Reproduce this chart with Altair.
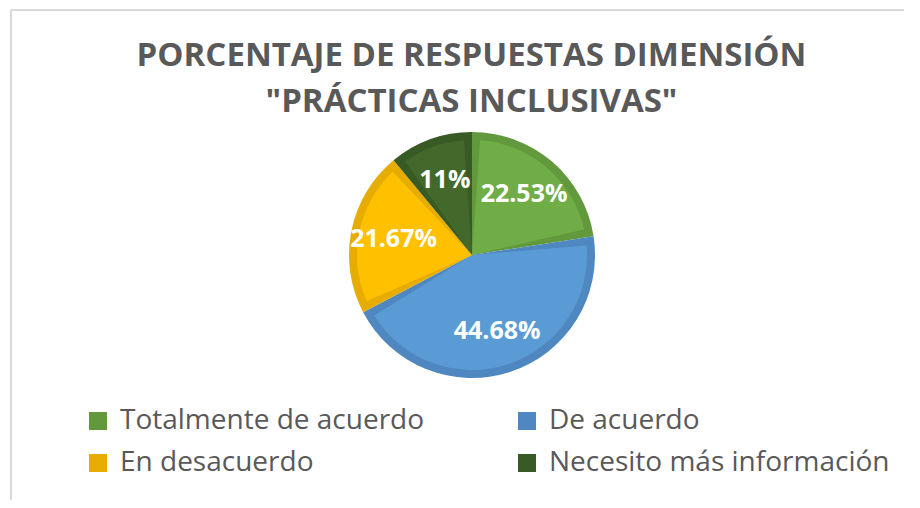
import altair as alt
import pandas as pd

# ---- data ----
categorias = ["Totalmente de acuerdo", "De acuerdo", "En desacuerdo", "Necesito más información"]
valores = [22.53, 44.68, 21.67, 11]
orden = [1, 2, 3, 4]
colores_relleno = ["#70AD47", "#5B9BD5", "#FFC000", "#43682B"]
colores_borde = ["#62993C", "#4F88C0", "#E6AC00", "#385A24"]
orden_leyenda = ["Totalmente de acuerdo", "En desacuerdo", "De acuerdo", "Necesito más información"]
titulo = ["PORCENTAJE DE RESPUESTAS DIMENSIÓN", "\"PRÁCTICAS INCLUSIVAS\""]

df = pd.DataFrame({"categoria": categorias, "valor": valores, "orden": orden})

W, H = 893, 490
CX, CY = 461, 245
R_OUT, R_IN = 123, 115

base = alt.Chart(df).encode(
    theta=alt.Theta("valor:Q", stack=True),
    order=alt.Order("orden:Q"),
    x=alt.value(CX),
    y=alt.value(CY),
)

borde = base.mark_arc(radius=R_OUT, stroke=None).encode(
    color=alt.Color(
        "categoria:N",
        scale=alt.Scale(domain=categorias, range=colores_borde),
        legend=alt.Legend(
            title=None,
            values=orden_leyenda,
            orient="none",
            legendX=73,
            legendY=397,
            columns=2,
            symbolType="square",
            symbolSize=324,
            symbolStrokeWidth=0,
            symbolOpacity=1,
            labelFont="Open Sans",
            labelFontSize=28,
            labelColor="#595959",
            labelOffset=8,
            labelLimit=0,
            rowPadding=14,
            columnPadding=88,
        ),
    )
)

relleno = base.mark_arc(radius=R_IN, padAngle=0.14).encode(
    color=alt.Color(
        "categoria:N",
        scale=alt.Scale(domain=categorias, range=colores_relleno),
        legend=None,
    )
)

etiquetas = base.mark_text(
    radius=80, font="Open Sans", fontSize=25, fontWeight="bold", color="white"
).transform_calculate(
    etiqueta="toString(datum.valor) + '%'"
).encode(text="etiqueta:N")

marco = alt.Chart(alt.Data(values=[{}]))
linea_izq = marco.mark_rule(color="#D9D9D9", strokeWidth=2).encode(
    x=alt.value(0), y=alt.value(0), y2=alt.value(H)
)
linea_sup = marco.mark_rule(color="#D9D9D9", strokeWidth=2).encode(
    x=alt.value(0), x2=alt.value(W), y=alt.value(0)
)

chart = (
    alt.layer(linea_izq, linea_sup, borde, relleno, etiquetas)
    .resolve_scale(color="independent")
    .properties(
        width=W,
        height=H,
        padding={"left": 3, "top": 2, "right": 0, "bottom": 0},
        autosize=alt.AutoSizeParams(type="none"),
        title=alt.TitleParams(
            text=titulo,
            font="Open Sans",
            fontSize=33,
            fontWeight="bold",
            color="#595959",
            anchor="middle",
            frame="group",
            baseline="alphabetic",
            lineHeight=46,
            offset=-136,
            dx=14,
        ),
    )
    .configure_view(stroke=None)
    .configure(background="white")
)

chart.save("out.html", embed_options={"renderer": "svg", "actions": False})
